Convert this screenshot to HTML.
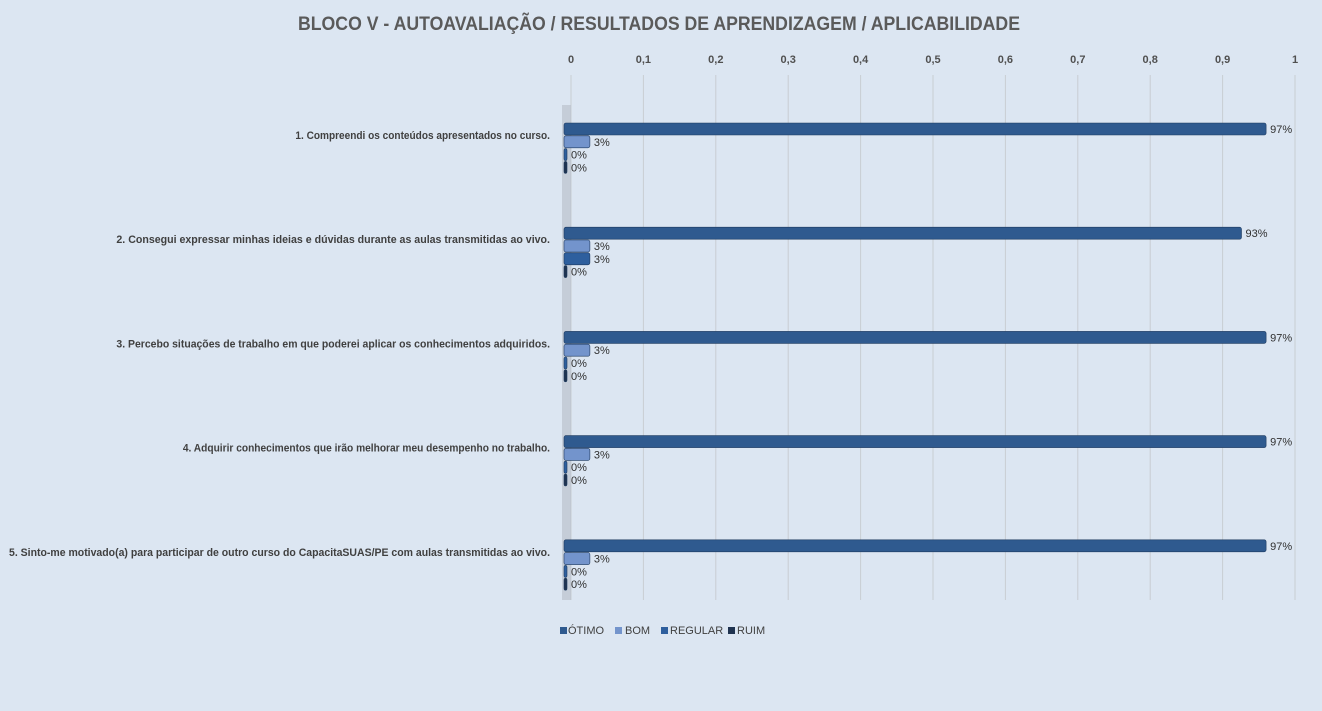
<!DOCTYPE html>
<html><head><meta charset="utf-8"><style>
html,body{margin:0;overflow:hidden;background:#dce6f2;font-family:"Liberation Sans",sans-serif}
svg{display:block}
svg text{font-family:"Liberation Sans",sans-serif}
</style></head><body>
<svg id="c" width="1322" height="711" xmlns="http://www.w3.org/2000/svg">
<rect width="1322" height="711" fill="#dce6f2"/>
<text x="298" y="30" textLength="722" lengthAdjust="spacingAndGlyphs" font-size="19" font-weight="bold" fill="#5a5a5a">BLOCO V - AUTOAVALIAÇÃO / RESULTADOS DE APRENDIZAGEM / APLICABILIDADE</text>
<g id="grid"></g><g id="bars"></g>
<g font-size="11" fill="#404040">
<rect x="560" y="627" width="7" height="7" fill="#2f5a8f"/><text x="568" y="634">ÓTIMO</text>
<rect x="615" y="627" width="7" height="7" fill="#7394cc"/><text x="625" y="634">BOM</text>
<rect x="661" y="627" width="7" height="7" fill="#2e5f9e"/><text x="670" y="634">REGULAR</text>
<rect x="728" y="627" width="7" height="7" fill="#1f3350"/><text x="737" y="634">RUIM</text>
</g>
</svg>
<script>
const categories=["1. Compreendi os conteúdos apresentados no curso.","2. Consegui expressar minhas ideias e dúvidas durante as aulas transmitidas ao vivo.","3. Percebo situações de trabalho em que poderei aplicar os conhecimentos adquiridos.","4. Adquirir conhecimentos que irão melhorar meu desempenho no trabalho.","5. Sinto-me motivado(a) para participar de outro curso do CapacitaSUAS/PE com aulas transmitidas ao vivo."];
const seriesNames=["ÓTIMO","BOM","REGULAR","RUIM"];
const otimo=[0.967,0.933,0.967,0.967,0.967];
const bom=[0.033,0.033,0.033,0.033,0.033];
const regular=[0,0.033,0,0,0];
const ruim=[0,0,0,0,0];
const ticks=[0,0.1,0.2,0.3,0.4,0.5,0.6,0.7,0.8,0.9,1];
const tickLabels=["0","0,1","0,2","0,3","0,4","0,5","0,6","0,7","0,8","0,9","1"];
const NS="http://www.w3.org/2000/svg";
const x=v=>571+v*724;
const gy=i=>123+i*104.2;
function mk(t,a,p){const e=document.createElementNS(NS,t);for(const k in a)e.setAttribute(k,a[k]);p.appendChild(e);return e;}
const grid=document.getElementById('grid'),bars=document.getElementById('bars');
ticks.forEach((t,i)=>{
 const l=mk('line',{x1:x(t),x2:x(t),y1:75,y2:600,stroke:'#c9cdd3','stroke-width':1},grid);
 
 
 const tx=mk('text',{x:x(t),y:63,'text-anchor':'middle','font-size':11,'font-weight':'bold',fill:'#505050'},grid);
 tx.textContent=tickLabels[i];
 
 
});
const wall=mk('rect',{x:562,y:105,width:9,height:495,fill:'#b5bcc6',opacity:0.6},grid);


const series=[otimo,bom,regular,ruim];
const colors=["#2f5a8f","#7394cc","#2e5f9e","#1f3350"];
categories.forEach((c,i)=>{
 const lt=mk('text',{x:550,y:gy(i)+16,'text-anchor':'end','font-size':11,'font-weight':'bold',fill:'#404040'},bars);
 lt.textContent=c;
 
 
 const maxW=537*c.length/categories[4].length+4;
 lt.setAttribute('textLength',maxW);
 lt.setAttribute('lengthAdjust','spacingAndGlyphs');
 series.forEach((s,j)=>{
  const v=s[i],y=gy(i)+j*12.8;
  const w=Math.max(3,x(v)-5-564);
  const r=mk('rect',{x:564,y:y,width:w,height:12,rx:2,fill:colors[j],stroke:'#1e3a5f','stroke-width':0.6},bars);
  
  
  const t=mk('text',{x:564+w+4,y:y+10,'font-size':11,fill:'#303030'},bars);
  t.textContent=Math.round(v*100)+'%';
  
  
 });
});
</script>
</body></html>
